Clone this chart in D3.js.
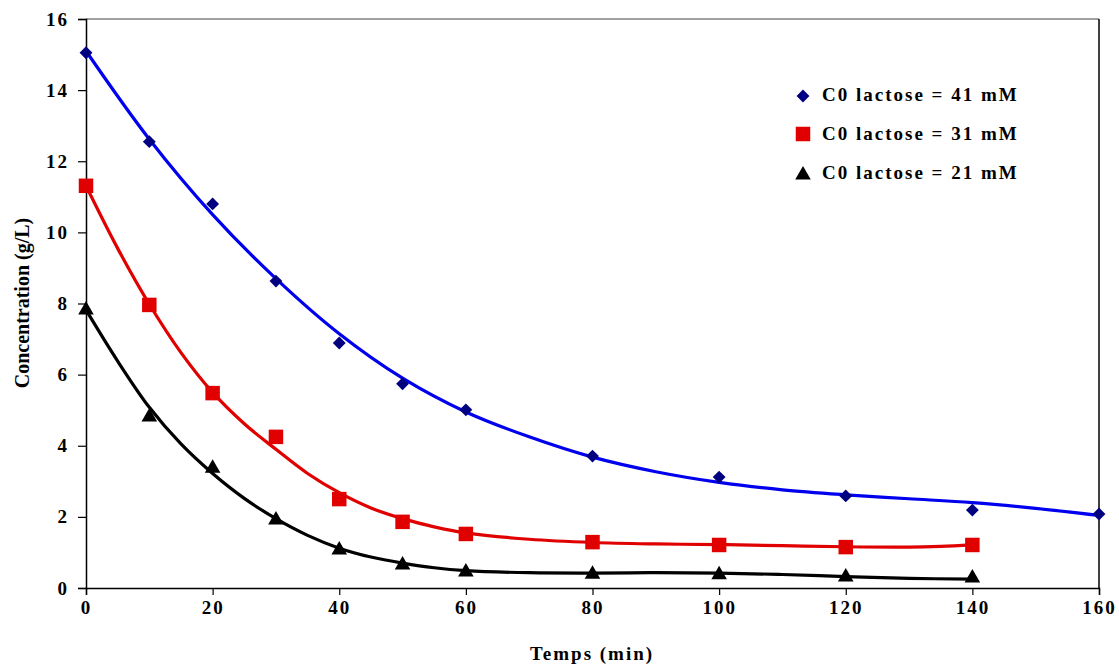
<!DOCTYPE html>
<html>
<head>
<meta charset="utf-8">
<script src="https://cdn.jsdelivr.net/npm/d3@7"></script>
<style>
  body { margin: 0; background: #fff; }
  svg { display: block; font-family: "Liberation Serif", "Times New Roman", serif; font-weight: bold; }
</style>
</head>
<body>
<svg id="chart" width="1119" height="666"></svg>
<script>
// Measured times (min)
const timesLong = [0, 10, 20, 30, 40, 50, 60, 80, 100, 120, 140, 160];
const timesShort = [0, 10, 20, 30, 40, 50, 60, 80, 100, 120, 140];

// Lactose concentration (g/L), one array per initial concentration
const lactose41 = [15.05, 12.55, 10.80, 8.63, 6.89, 5.74, 5.01, 3.71, 3.12, 2.59, 2.19, 2.08];
const lactose31 = [11.31, 7.96, 5.48, 4.25, 2.50, 1.86, 1.52, 1.29, 1.21, 1.15, 1.21];
const lactose21 = [7.82, 4.81, 3.37, 1.91, 1.07, 0.65, 0.45, 0.39, 0.37, 0.31, 0.28];

// Trend curves drawn through the data
const trendT41 = [0, 10, 20, 30, 40, 50, 60, 70, 80, 90, 100, 110, 120, 130, 140, 150, 160];
const trend41 = [15.10, 12.62, 10.50, 8.70, 7.15, 5.90, 4.95, 4.25, 3.68, 3.27, 2.97, 2.76, 2.62, 2.51, 2.40, 2.24, 2.04];
const trendT31 = [0, 5, 10, 15, 20, 25, 30, 35, 40, 45, 50, 55, 60, 70, 80, 90, 100, 110, 120, 130, 135, 140];
const trend31 = [11.31, 9.55, 7.98, 6.62, 5.50, 4.62, 3.90, 3.22, 2.68, 2.25, 1.95, 1.72, 1.55, 1.37, 1.28, 1.24, 1.22, 1.19, 1.16, 1.15, 1.17, 1.21];
const trendT21 = [0, 5, 10, 15, 20, 25, 30, 35, 40, 45, 50, 55, 60, 70, 80, 90, 100, 110, 120, 130, 140];
const trend21 = [7.82, 6.38, 5.08, 4.05, 3.22, 2.52, 1.95, 1.48, 1.12, 0.87, 0.70, 0.57, 0.49, 0.43, 0.42, 0.43, 0.42, 0.38, 0.32, 0.27, 0.25];

const seriesNames = ["C0 lactose = 41 mM", "C0 lactose = 31 mM", "C0 lactose = 21 mM"];
const xTicks = [0, 20, 40, 60, 80, 100, 120, 140, 160];
const yTicks = [0, 2, 4, 6, 8, 10, 12, 14, 16];

const svg = d3.select("#chart");
const plotLeft = 86, plotRight = 1099, plotTop = 19, plotBottom = 588;

const x = d3.scaleLinear().domain([0, 160]).range([plotLeft, plotRight]);
const y = d3.scaleLinear().domain([0, 16]).range([plotBottom, plotTop]);

// Plot frame: grey top edge, black right edge
svg.append("line").attr("x1", plotLeft).attr("x2", plotRight).attr("y1", plotTop).attr("y2", plotTop)
  .attr("stroke", "#808080").attr("stroke-width", 1.5);
svg.append("line").attr("x1", plotRight).attr("x2", plotRight).attr("y1", plotTop).attr("y2", plotBottom)
  .attr("stroke", "#000").attr("stroke-width", 1.5);

// Axes
const xAxis = svg.append("g").attr("transform", `translate(0,${plotBottom})`)
  .call(d3.axisBottom(x).tickValues(xTicks).tickSize(7).tickPadding(6).tickFormat(d3.format("d")));
const yAxis = svg.append("g").attr("transform", `translate(${plotLeft},0)`)
  .call(d3.axisLeft(y).tickValues(yTicks).tickSize(8).tickPadding(9).tickFormat(d3.format("d")));

[xAxis, yAxis].forEach(g => {
  g.select(".domain").attr("stroke", "#000").attr("stroke-width", 1.5);
  g.selectAll(".tick line").attr("stroke", "#000").attr("stroke-width", 1.2);
  g.selectAll(".tick text").attr("fill", "#000")
    .style("font-family", "Liberation Serif, serif").style("font-weight", "bold")
    .style("font-size", "19px").style("letter-spacing", "2px");
});

// Axis titles
svg.append("text").attr("x", 592).attr("y", 660).attr("text-anchor", "middle")
  .style("font-size", "19px").style("letter-spacing", "2px").text("Temps (min)");
svg.append("text").attr("transform", "translate(29,303) rotate(-90)").attr("text-anchor", "middle")
  .style("font-size", "20px").text("Concentration (g/L)");

// Trend curves
const line = d3.line().x(d => x(d[0])).y(d => y(d[1])).curve(d3.curveCatmullRom.alpha(0.5));
const trends = [
  { t: trendT41, v: trend41, color: "#0000ee" },
  { t: trendT31, v: trend31, color: "#e00000" },
  { t: trendT21, v: trend21, color: "#000000" }
];
trends.forEach(s => {
  svg.append("path").datum(d3.zip(s.t, s.v)).attr("d", line)
    .attr("fill", "none").attr("stroke", s.color).attr("stroke-width", 3.2);
});

// Markers
const symDiamond = d3.symbol().type(d3.symbolDiamond2).size(105);
const symSquare = d3.symbol().type(d3.symbolSquare).size(210);
const symTriangle = d3.symbol().type(d3.symbolTriangle).size(105);

const markerSets = [
  { t: timesLong, v: lactose41, sym: symDiamond, color: "#000080" },
  { t: timesShort, v: lactose31, sym: symSquare, color: "#e00000" },
  { t: timesShort, v: lactose21, sym: symTriangle, color: "#000000" }
];
markerSets.forEach(s => {
  svg.append("g").selectAll("path").data(d3.zip(s.t, s.v)).join("path")
    .attr("transform", d => `translate(${x(d[0])},${y(d[1])})`)
    .attr("d", s.sym).attr("fill", s.color);
});

// Legend
const legendMarkerY = [96, 134, 175];
const legendTextY = [101, 140, 179];
markerSets.forEach((s, i) => {
  svg.append("path").attr("transform", `translate(803,${legendMarkerY[i]})`)
    .attr("d", s.sym).attr("fill", s.color);
  svg.append("text").attr("x", 822).attr("y", legendTextY[i])
    .style("font-size", "19px").style("letter-spacing", "2px").text(seriesNames[i]);
});
</script>
</body>
</html>
